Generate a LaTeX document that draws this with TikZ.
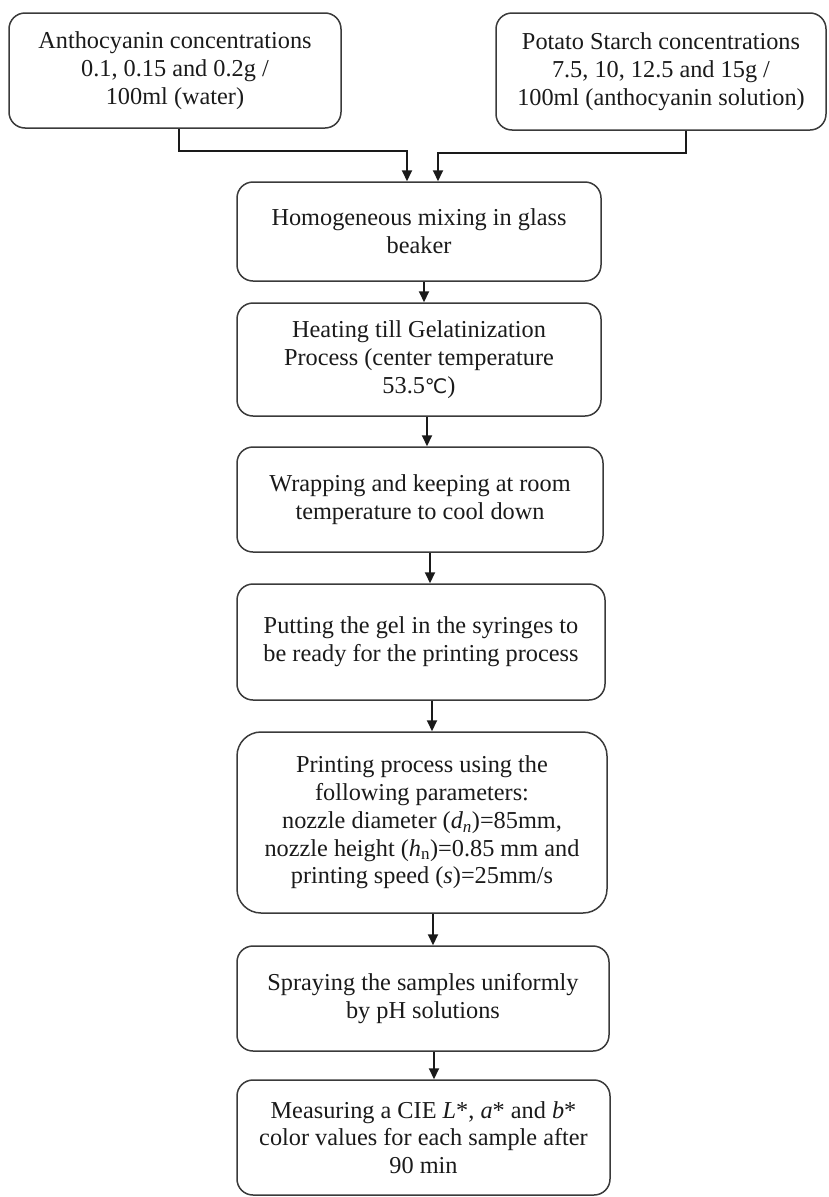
\documentclass[tikz,border=0pt]{standalone}
\usepackage{fontspec}
\setmainfont{Liberation Serif}
\newfontfamily\symfont{DejaVu Sans}
\usetikzlibrary{arrows.meta}
\definecolor{ink}{HTML}{1A1A1A}
\definecolor{edge}{HTML}{3A3A3A}
\begin{document}
\begin{tikzpicture}[x=1pt,y=-1pt,
  box/.style={draw=edge, line width=1.5pt, rounded corners=16pt, inner sep=0pt,
    align=center, text=ink, font=\fontsize{24.3}{27.8}\selectfont},
  conn/.style={draw=ink, line width=2pt},
  arr/.style={conn, -{Triangle[length=11pt,width=10pt]}}]
\useasboundingbox (0,0) rectangle (828,1197);

\node[box, minimum width=332pt, minimum height=115pt] (L) at (175,70.5)
  {Anthocyanin concentrations\\0.1, 0.15 and 0.2g /\\100ml (water)};
\node[box, minimum width=330pt, minimum height=117pt] (R) at (661,71.5)
  {Potato Starch concentrations\\7.5, 10, 12.5 and 15g /\\100ml (anthocyanin solution)};

\node[box, minimum width=364pt, minimum height=99pt] (b1) at (419,231.5)
  {Homogeneous mixing in glass\\beaker};
\node[box, minimum width=364pt, minimum height=113pt] (b2) at (419,359.5)
  {Heating till Gelatinization\\Process (center temperature\\53.5{\symfont\fontsize{20}{28}\selectfont ℃})};
\node[box, minimum width=366pt, minimum height=105pt] (b3) at (420,499.5)
  {Wrapping and keeping at room\\temperature to cool down};
\node[box, minimum width=368pt, minimum height=116pt] (b4) at (421,642)
  {Putting the gel in the syringes to\\be ready for the printing process};
\node[box, minimum width=370pt, minimum height=181pt, rounded corners=24pt] (b5) at (422,822.5)
  {Printing process using the\\following parameters:\\nozzle diameter (\textit{d\textsubscript{n}})=85mm,\\nozzle height (\textit{h}\textsubscript{n})=0.85 mm and\\printing speed (\textit{s})=25mm/s};
\node[box, minimum width=372pt, minimum height=105pt] (b6) at (423,998.5)
  {Spraying the samples uniformly\\by pH solutions};
\node[box, minimum width=373pt, minimum height=115pt] (b7) at (423.5,1137.5)
  {Measuring a CIE \textit{L}*, \textit{a}* and \textit{b}*\\color values for each sample after\\90 min};

% top connectors
\coordinate (l1) at ([xshift=4]L.south);
\coordinate (l2) at ([xshift=-12]b1.north);
\coordinate (r1) at ([xshift=25]R.south);
\coordinate (r2) at ([xshift=19]b1.north);
\draw[arr] (l1) -- ++(0,22) -| (l2);
\draw[arr] (r1) -- ++(0,22) -| (r2);

% main flow
\coordinate (a1) at ([xshift=5]b1.south);
\coordinate (a2) at ([xshift=8]b2.south);
\coordinate (a3) at ([xshift=10]b3.south);
\coordinate (a4) at ([xshift=11]b4.south);
\coordinate (a5) at ([xshift=11]b5.south);
\coordinate (a6) at ([xshift=11]b6.south);
\draw[arr] (a1) -- (a1 |- b2.north);
\draw[arr] (a2) -- (a2 |- b3.north);
\draw[arr] (a3) -- (a3 |- b4.north);
\draw[arr] (a4) -- (a4 |- b5.north);
\draw[arr] (a5) -- (a5 |- b6.north);
\draw[arr] (a6) -- (a6 |- b7.north);
\end{tikzpicture}
\end{document}
